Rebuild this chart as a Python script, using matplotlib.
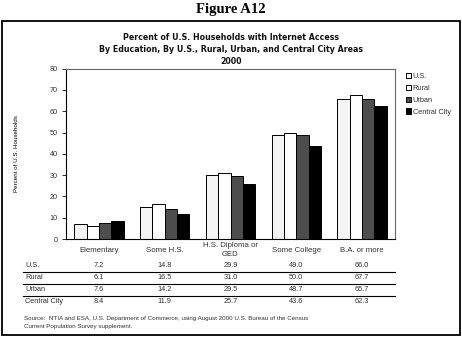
import matplotlib.pyplot as plt
import numpy as np
from matplotlib.patches import Rectangle

# data
categories = ['Elementary', 'Some H.S.', 'H.S. Diploma or\nGED', 'Some College', 'B.A. or more']
series_names = ['U.S.', 'Rural', 'Urban', 'Central City']
us = [7.2, 14.8, 29.9, 49.0, 66.0]
rural = [6.1, 16.5, 31.0, 50.0, 67.7]
urban = [7.6, 14.2, 29.5, 48.7, 65.7]
central_city = [8.4, 11.9, 25.7, 43.6, 62.3]
y_ticks = [0, 10, 20, 30, 40, 50, 60, 70, 80]

series = [us, rural, urban, central_city]
colors = ['#f4f4f4', '#ffffff', '#4d4d4d', '#000000']

W, H = 462, 337
plt.rcParams['font.family'] = 'Liberation Sans'

fig = plt.figure(figsize=(W / 100, H / 100), dpi=100)


def fx(px):
    return px / W


def fy(py):
    return 1 - py / H


# outer frame
fig.patches.append(Rectangle((fx(1.5), fy(335)), fx(458), (335 - 20.5) / H,
                             transform=fig.transFigure, fill=False,
                             edgecolor='black', linewidth=1.3))

fig.text(fx(231), fy(10), 'Figure A12', ha='center', va='center',
         fontsize=10.5, fontweight='bold', family='Liberation Serif')

title_lines = ['Percent of U.S. Households with Internet Access',
               'By Education, By U.S., Rural, Urban, and Central City Areas',
               '2000']
for ty, line in zip([37, 49, 61], title_lines):
    fig.text(fx(231), fy(ty), line, ha='center', va='center', fontsize=5.7,
             fontweight='bold', family='DejaVu Sans', color='#111111')

# plot area
ax = fig.add_axes([fx(66), fy(239), fx(329), (239 - 68.7) / H])
x = np.arange(len(categories))
bar_w = 0.187
for i, (vals, c, name) in enumerate(zip(series, colors, series_names)):
    ax.bar(x + (i - 1.5) * bar_w, vals, bar_w, color=c, edgecolor='black',
           linewidth=0.7, label=name)

ax.set_xlim(-0.5, len(categories) - 0.5)
ax.set_ylim(0, 80)
ax.set_yticks(y_ticks)
ax.set_xticks([])
ax.tick_params(axis='y', labelsize=5.2, length=3, width=0.7, pad=3, colors='#333333')
for s in ax.spines.values():
    s.set_linewidth(0.8)
ax.spines['top'].set_color('#666666')
ax.spines['right'].set_color('#666666')

fig.text(fx(17), fy(154), 'Percent of U.S. Households', rotation=90,
         ha='center', va='center', fontsize=4.5)

ax.legend(loc='upper left', bbox_to_anchor=(fx(402), fy(69)),
          bbox_transform=fig.transFigure, frameon=False, fontsize=5.3,
          handlelength=0.7, handleheight=0.7, handletextpad=0.25,
          labelspacing=0.65, borderpad=0, labelcolor='#333333')

# table under chart
centers = [fig.transFigure.inverted().transform(ax.transData.transform((c, 0)))[0]
           for c in x]
for cx, cat in zip(centers, categories):
    fig.text(cx, fy(250), cat, ha='center', va='center', fontsize=5.6,
             color='#333333', linespacing=1.45)

row_y = [265.7, 277.7, 289.7, 301.5]
for ry, name, vals in zip(row_y, series_names, series):
    fig.text(fx(25), fy(ry), name, ha='left', va='center', fontsize=5.3,
             color='#333333')
    for cx, v in zip(centers, vals):
        fig.text(cx, fy(ry), f'{v:.1f}', ha='center', va='center',
                 fontsize=5.3, color='#333333')

for ly in [272, 284, 295.7]:
    fig.add_artist(plt.Line2D([fx(23), fx(395)], [fy(ly), fy(ly)],
                              transform=fig.transFigure, color='black',
                              linewidth=0.8))

fig.text(fx(24), fy(322.5), 'Source:  NTIA and ESA, U.S. Department of Commerce, '
         'using August 2000 U.S. Bureau of the Census\nCurrent Population '
         'Survey supplement.', ha='left', va='center', fontsize=4.5,
         color='#333333', linespacing=1.6)

fig.savefig('out.png', dpi=100)
